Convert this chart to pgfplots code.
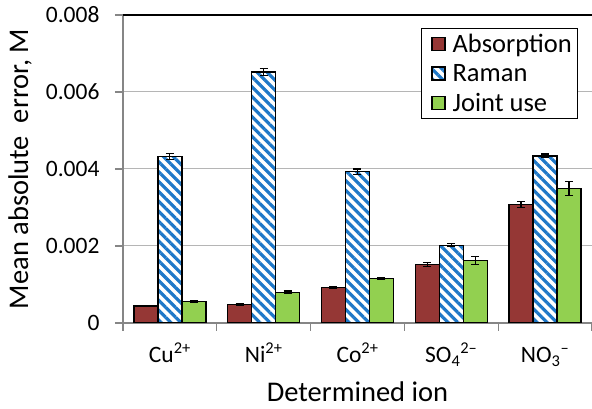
\documentclass[border=0pt]{standalone}
\usepackage{pgfplots}
\usepackage{pgfplotstable}
\pgfplotsset{compat=1.18}
\usepackage{fontspec}
\setmainfont{Carlito}
\usetikzlibrary{patterns.meta}

\definecolor{absred}{HTML}{953735}
\definecolor{ramanblue}{HTML}{1F78C8}
\definecolor{jointgreen}{HTML}{92D050}
\definecolor{axisgray}{HTML}{868686}
\definecolor{gridgray}{HTML}{B5B5B5}

% mean absolute error (M) and its spread, per determined ion
\pgfplotstableread{
x abs     abserr  raman   ramanerr joint   jointerr
0 0.00044 0.00002 0.00432 0.00008  0.00055 0.00002
1 0.00048 0.00002 0.00652 0.00010  0.00080 0.00003
2 0.00092 0.00003 0.00393 0.00007  0.00116 0.00003
3 0.00152 0.00005 0.00202 0.00004  0.00162 0.00010
4 0.00307 0.00008 0.00434 0.00005  0.00349 0.00018
}\errdata

\begin{document}
\begin{tikzpicture}
\begin{axis}[
  scale only axis,
  width=469pt, height=308pt,
  ybar=0pt, bar width=24pt,
  xmin=-0.5, xmax=4.5,
  ymin=0, ymax=0.008,
  axis x line*=bottom, axis y line*=left,
  x axis line style={-, draw=axisgray, line width=1.2pt},
  y axis line style={-, draw=axisgray, line width=1.2pt},
  tick align=outside,
  xtick={0,1,2,3,4},
  xticklabels={Cu\textsuperscript{2+}, Ni\textsuperscript{2+}, Co\textsuperscript{2+}, SO\textsubscript{4}\textsuperscript{2--}, NO\textsubscript{3}\textsuperscript{--}},
  minor xtick={-0.5,0.5,1.5,2.5,3.5,4.5},
  x tick style={draw=none},
  minor x tick style={draw=axisgray, line width=1.2pt},
  minor tick length=8pt,
  ytick={0,0.002,0.004,0.006,0.008},
  yticklabels={0,0.002,0.004,0.006,0.008},
  scaled y ticks=false,
  y tick style={draw=axisgray, line width=1.2pt},
  major tick length=8pt,
  ymajorgrids,
  grid style={gridgray, line width=1pt},
  tick label style={font=\fontsize{23.5}{28}\selectfont},
  yticklabel style={anchor=east, xshift=-12pt},
  xticklabel style={anchor=base, yshift=-32pt},
  xlabel={Determined ion},
  ylabel={Mean absolute\ \ error, M},
  label style={font=\fontsize{28.5}{34}\selectfont},
  xlabel style={at={(axis description cs:0.5,0)}, anchor=center, yshift=-69pt},
  ylabel style={at={(axis description cs:0,0.5)}, anchor=center, rotate=0, yshift=103pt},
  legend style={at={(0.635,0.958)}, anchor=north west, draw=black, line width=1pt,
    font=\fontsize{26.5}{28}\selectfont, inner xsep=4pt, inner ysep=4pt, row sep=6pt,
    cells={anchor=west}},
  legend image code/.code={\draw[#1, line width=1.2pt] (6pt,-6.5pt) rectangle (19pt,6.5pt); \path (0pt,0pt) (24pt,0pt);},
  error bars/y dir=both,
  error bars/y explicit,
  error bars/error bar style={black, line width=1.2pt},
  error bars/error mark options={rotate=90, mark size=4pt, black, line width=1.2pt},
]
\addplot[draw=black, line width=1.3pt, fill=absred]
  table[x=x, y=abs, y error=abserr] {\errdata};
\addplot[draw=black, line width=1.3pt, fill=white,
  postaction={pattern={Lines[angle=-45, distance=7pt, line width=3.2pt]}, pattern color=ramanblue}]
  table[x=x, y=raman, y error=ramanerr] {\errdata};
\addplot[draw=black, line width=1.3pt, fill=jointgreen]
  table[x=x, y=joint, y error=jointerr] {\errdata};
\legend{Absorption, Raman, Joint use}
\draw[black, line width=1.6pt] (rel axis cs:0,1) -- (rel axis cs:1,1);
\end{axis}
\pgfresetboundingbox
\path (-123pt,-86pt) rectangle (469pt,323pt);
\end{tikzpicture}
\end{document}
